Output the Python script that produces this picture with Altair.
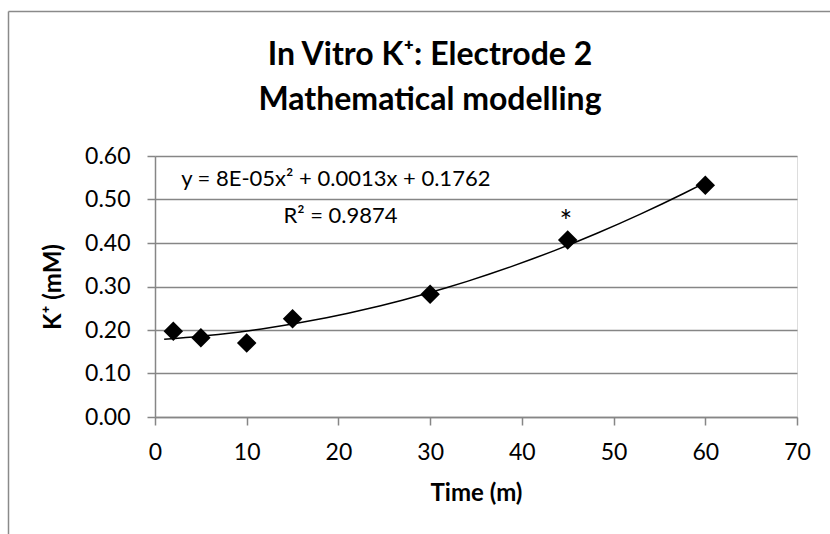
import altair as alt
import pandas as pd

# ---- data ----
time_min = [2, 5, 10, 15, 30, 45, 60]
k_mM = [0.197, 0.182, 0.170, 0.226, 0.282, 0.407, 0.533]

x_ticks = [0, 10, 20, 30, 40, 50, 60, 70]
y_ticks = [0.0, 0.1, 0.2, 0.3, 0.4, 0.5, 0.6]

title_lines = ["In Vitro K\u207a: Electrode 2", "Mathematical modelling"]
y_title = "K\u207a (mM)"
x_title = "Time (m)"

note_text = ["y = 8E-05x\u00b2 + 0.0013x + 0.1762", "R\u00b2 = 0.9874"]
note_x = [2.85, 14.0]
note_y = [0.530, 0.447]

star_text = ["*"]
star_x = [44.8]
star_y = [0.425]

trend_extent = [1, 60]

FONT = "Lato"
GRID = "#868686"

pts = pd.DataFrame({"time": time_min, "k": k_mM})
notes = pd.DataFrame({"time": note_x, "k": note_y, "label": note_text})
stars = pd.DataFrame({"time": star_x, "k": star_y, "label": star_text})

xscale = alt.Scale(domain=[0, 70], nice=False, zero=False)
yscale = alt.Scale(domain=[0, 0.6], nice=False)

x_enc = alt.X(
    "time:Q",
    scale=xscale,
    axis=alt.Axis(
        values=x_ticks, grid=False, format="d",
        domainColor=GRID, domainWidth=1.5,
        tickColor=GRID, tickWidth=1.5, tickSize=8,
        labelFont=FONT, labelFontSize=23, labelColor="black",
        labelPadding=16, labelFlush=False, labelOverlap=False,
        title=x_title, titleFont=FONT, titleFontSize=24,
        titleFontWeight="bold", titleColor="black",
        titleBaseline="alphabetic", titleY=83,
    ),
)
y_enc = alt.Y(
    "k:Q",
    scale=yscale,
    axis=alt.Axis(
        values=y_ticks, format=".2f", grid=True,
        gridColor=GRID, gridWidth=1.5,
        domainColor=GRID, domainWidth=1.5,
        tickColor=GRID, tickWidth=1.5, tickSize=8,
        labelFont=FONT, labelFontSize=23, labelColor="black",
        labelPadding=17, labelOverlap=False,
        title=y_title, titleFont=FONT, titleFontSize=24,
        titleFontWeight="bold", titleColor="black",
        titleBaseline="alphabetic", titleAngle=270, titleAlign="center",
        titleX=-95, titleY=130.5,
    ),
)

points = alt.Chart(pts).mark_point(
    shape="diamond", filled=True, color="black", size=380, opacity=1
).encode(x=x_enc, y=y_enc)

trend = alt.Chart(pts).transform_regression(
    "time", "k", method="poly", order=2, extent=trend_extent
).mark_line(color="black", strokeWidth=1.5).encode(x=x_enc, y=y_enc)

note_layer = alt.Chart(notes).mark_text(
    align="left", baseline="alphabetic", font=FONT, fontSize=22, color="black"
).encode(x=x_enc, y=y_enc, text="label:N")

star_layer = alt.Chart(stars).mark_text(
    align="center", baseline="alphabetic", font=FONT, fontSize=30, color="black"
).encode(x=x_enc, y=y_enc, text="label:N")

one = pd.DataFrame({"z": [0]})
border_left = alt.Chart(one).mark_rule(color="#8a8a8a", strokeWidth=1.5).encode(
    x=alt.value(-146.5), y=alt.value(-144.5), y2=alt.value(400)
)
border_top = alt.Chart(one).mark_rule(color="#8a8a8a", strokeWidth=1.5).encode(
    x=alt.value(-146.5), x2=alt.value(700), y=alt.value(-144.5)
)

# chart title, drawn as two centred text lines above the plot area
title1 = alt.Chart(one).mark_text(
    text=title_lines[0], align="center", baseline="alphabetic",
    font=FONT, fontSize=32, fontWeight="bold", color="black"
).encode(x=alt.value(275), y=alt.value(-91))
title2 = alt.Chart(one).mark_text(
    text=title_lines[1], align="center", baseline="alphabetic",
    font=FONT, fontSize=32, fontWeight="bold", color="black"
).encode(x=alt.value(275), y=alt.value(-46))

chart = alt.layer(
    border_left, border_top, title1, title2, trend, points, note_layer, star_layer
).properties(
    width=642,
    height=261,
    autosize=alt.AutoSizeParams(type="none"),
    padding={"left": 155, "top": 156, "right": 33, "bottom": 117},
).configure_view(strokeWidth=0).configure(background="white")

chart.save("out.html", embed_options={"renderer": "svg", "actions": False})
